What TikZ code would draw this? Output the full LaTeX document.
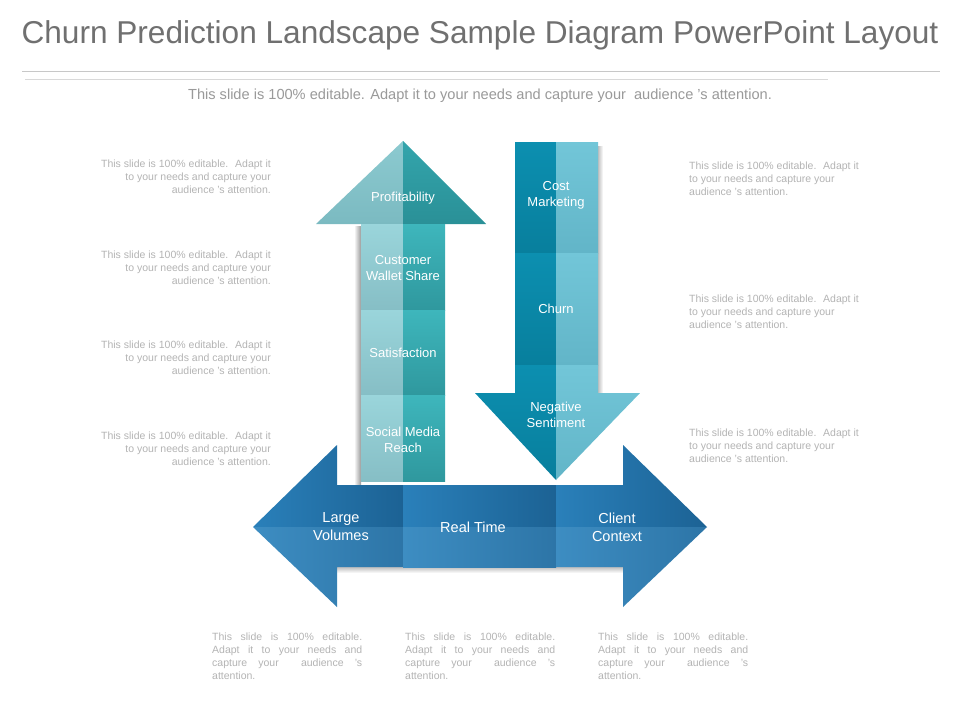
\documentclass[tikz,border=0pt]{standalone}
\usepackage{fontspec}
\setmainfont{Liberation Sans}
\usepackage{tikz}
\usetikzlibrary{positioning}
\usetikzlibrary{arrows}

\definecolor{titlegray}{HTML}{707070}
\definecolor{subgray}{HTML}{9A9A9A}
\definecolor{notegray}{HTML}{B4B4B4}
\definecolor{rulegray}{HTML}{C8C8C8}
% up arrow
\definecolor{upHeadLt}{HTML}{8CCAD0}
\definecolor{upHeadLb}{HTML}{7BBAC1}
\definecolor{upHeadRt}{HTML}{33A5AC}
\definecolor{upHeadRb}{HTML}{2A9097}
\definecolor{upLt}{HTML}{9AD5DB}
\definecolor{upLb}{HTML}{86BEC5}
\definecolor{upRt}{HTML}{3EB6BC}
\definecolor{upRb}{HTML}{2F989E}
% down arrow
\definecolor{dnLt}{HTML}{0C8FB0}
\definecolor{dnLb}{HTML}{087F9D}
\definecolor{dnRt}{HTML}{72C6D8}
\definecolor{dnRb}{HTML}{62B5C8}
% flat arrow
\definecolor{hzTopL}{HTML}{2A80BA}
\definecolor{hzTopR}{HTML}{1C6294}
\definecolor{hzBotL}{HTML}{3D8DC2}
\definecolor{hzBotR}{HTML}{2D75A7}

\begin{document}
\begin{tikzpicture}[x=1pt,y=-1pt,line join=bevel,
        lbl/.style={text=white,align=center,inner sep=0pt,font=\fontsize{13}{16}\selectfont},
        lblbig/.style={lbl,font=\fontsize{14.5}{18}\selectfont},
        note/.style={text=notegray,inner sep=0pt,font=\fontsize{10.5}{13}\selectfont},
        notebox/.style={note,text width=150pt,align=justify,anchor=west}]
        %
        \useasboundingbox[fill=white] (0,0) rectangle (960,720);
        %
        \node (title) at (480,35) [text=titlegray,font=\fontsize{31.6}{36}\selectfont] {Churn Prediction Landscape Sample Diagram PowerPoint Layout};
        \draw [color=rulegray] (22,71) -- (940,71);
        \draw [color=rulegray!70] (25,79) -- (828,79);
        \node (subtitle) at (480,96) [text=subgray,font=\fontsize{14.6}{16}\selectfont] {This slide is 100\% editable. Adapt it to your needs and capture your \ audience 's attention.};
        %
        % shadows
        \shade [left color=white,right color=black!40] (354,226) rectangle (361,486);
        \shade [left color=black!25,right color=white] (598,146) rectangle (603,393);
        \shade [top color=black!25,bottom color=white] (337,567) rectangle (623,573);
        %
        % up arrow
        \shade [top color=upHeadLt,bottom color=upHeadLb] (403,141) -- (316,224) -- (403,224) -- cycle;
        \shade [top color=upHeadRt,bottom color=upHeadRb] (403,141) -- (486,224) -- (403,224) -- cycle;
        \shade [top color=upLt,bottom color=upLb] (361,224) rectangle (403,310);
        \shade [top color=upRt,bottom color=upRb] (403,224) rectangle (445,310);
        \shade [top color=upLt,bottom color=upLb] (361,310) rectangle (403,395);
        \shade [top color=upRt,bottom color=upRb] (403,310) rectangle (445,395);
        \shade [top color=upLt,bottom color=upLb] (361,395) rectangle (403,481);
        \shade [top color=upRt,bottom color=upRb] (403,395) rectangle (445,481);
        %
        % down arrow
        \shade [top color=dnLt,bottom color=dnLb] (515,142) rectangle (556,253);
        \shade [top color=dnRt,bottom color=dnRb] (556,142) rectangle (598,253);
        \shade [top color=dnLt,bottom color=dnLb] (515,253) rectangle (556,365);
        \shade [top color=dnRt,bottom color=dnRb] (556,253) rectangle (598,365);
        \shade [top color=dnLt,bottom color=dnLb] (515,365) -- (556,365) -- (556,480) -- (475,393) -- (515,393) -- cycle;
        \shade [top color=dnRt,bottom color=dnRb] (556,365) -- (598,365) -- (598,393) -- (640,393) -- (556,480) -- cycle;
        %
        % flat arrow
        \shade [left color=hzTopL,right color=hzTopR] (253,527) -- (337,445) -- (337,485) -- (403,485) -- (403,527) -- cycle;
        \shade [left color=hzBotL,right color=hzBotR] (253,527) -- (403,527) -- (403,567) -- (337,567) -- (337,607) -- cycle;
        \shade [left color=hzTopL,right color=hzTopR] (403,485) rectangle (556,527);
        \shade [left color=hzBotL,right color=hzBotR] (403,527) rectangle (556,567);
        \shade [left color=hzTopL,right color=hzTopR] (556,485) -- (623,485) -- (623,445) -- (707,527) -- (556,527) -- cycle;
        \shade [left color=hzBotL,right color=hzBotR] (556,527) -- (707,527) -- (623,607) -- (623,567) -- (556,567) -- cycle;
        %
        \node (profit) at (403,198) [lbl] {Profitability};
        \node (wallet) at (403,268) [lbl] {Customer\\Wallet Share};
        \node (satisf) at (403,353) [lbl] {Satisfaction};
        \node (social) at (403,440) [lbl] {Social Media\\Reach};
        \node (cost) at (556,195) [lbl] {Cost\\Marketing};
        \node (churn) at (556,309) [lbl] {Churn};
        \node (negative) at (556,415) [lbl] {Negative\\Sentiment};
        \node (volumes) at (341,527) [lblbig] {Large\\Volumes};
        \node (realtime) at (473,527) [lblbig] {Real Time};
        \node (client) at (617,527) [lblbig] {Client\\Context};
        %
        \node (noteL1) at (271,177) [note,anchor=east,align=right] {This slide is 100\% editable. \ Adapt it\\to your needs and capture your\\audience 's attention.};
        \node (noteL2) at (271,268) [note,anchor=east,align=right] {This slide is 100\% editable. \ Adapt it\\to your needs and capture your\\audience 's attention.};
        \node (noteL3) at (271,358) [note,anchor=east,align=right] {This slide is 100\% editable. \ Adapt it\\to your needs and capture your\\audience 's attention.};
        \node (noteL4) at (271,449) [note,anchor=east,align=right] {This slide is 100\% editable. \ Adapt it\\to your needs and capture your\\audience 's attention.};
        \node (noteR1) at (689,179) [note,anchor=west,align=left] {This slide is 100\% editable. \ Adapt it\\to your needs and capture your\\audience 's attention.};
        \node (noteR2) at (689,312) [note,anchor=west,align=left] {This slide is 100\% editable. \ Adapt it\\to your needs and capture your\\audience 's attention.};
        \node (noteR3) at (689,446) [note,anchor=west,align=left] {This slide is 100\% editable. \ Adapt it\\to your needs and capture your\\audience 's attention.};
        \node (noteB1) at (212,656) [notebox] {This slide is 100\% editable.\linebreak Adapt it to your needs and\linebreak capture your \ audience 's\linebreak attention.};
        \node (noteB2) at (405,656) [notebox] {This slide is 100\% editable.\linebreak Adapt it to your needs and\linebreak capture your \ audience 's\linebreak attention.};
        \node (noteB3) at (598,656) [notebox] {This slide is 100\% editable.\linebreak Adapt it to your needs and\linebreak capture your \ audience 's\linebreak attention.};
        %
    \end{tikzpicture}
\end{document}
